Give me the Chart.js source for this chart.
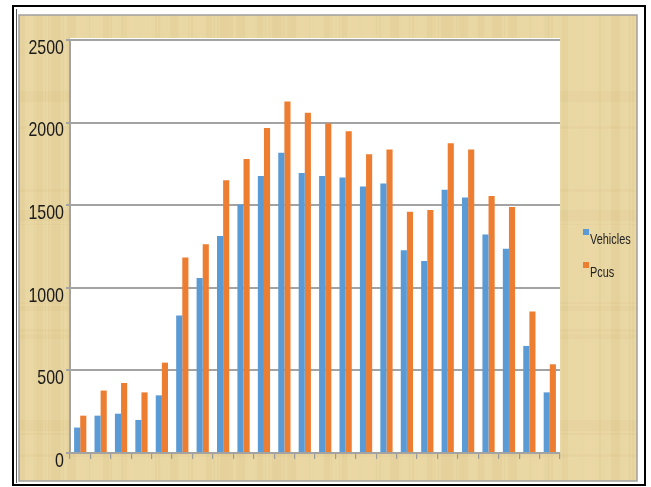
<!DOCTYPE html>
<html>
<head>
<meta charset="utf-8">
<script src="https://cdn.jsdelivr.net/npm/chart.js@4/dist/chart.umd.min.js"></script>
<style>
  html, body { margin: 0; padding: 0; background: #fff; overflow: hidden; }
  #wrap { width: 651px; height: 487px; position: relative; }
</style>
</head>
<body>
<div id="wrap"><canvas id="c" width="651" height="487"></canvas></div>
<script>
// Traffic counts per interval
const categories = ['1','2','3','4','5','6','7','8','9','10','11','12',
                    '13','14','15','16','17','18','19','20','21','22','23','24'];
const vehicles = [154, 226, 238, 200, 349, 833, 1059, 1314, 1504, 1677, 1818, 1695,
                  1677, 1667, 1613, 1631, 1227, 1162, 1594, 1546, 1322, 1237, 648, 367];
const pcus     = [226, 378, 424, 367, 547, 1183, 1263, 1651, 1780, 1968, 2127, 2060,
                  1994, 1947, 1808, 1837, 1461, 1471, 1875, 1837, 1556, 1489, 856, 537];
const yTicks   = [0, 500, 1000, 1500, 2000, 2500];

const BLUE = '#5b9bd5';
const ORANGE = '#ed7d31';
const GRID = '#a3a3a3';
const FONT = '"Liberation Sans", Arial, sans-serif';

// Papyrus-like backdrop, outer frame and white plotting panel
const backdrop = {
  id: 'backdrop',
  beforeDraw(chart) {
    const ctx = chart.ctx;
    const a = chart.chartArea;
    ctx.save();
    ctx.fillStyle = '#ffffff';
    ctx.fillRect(0, 0, chart.width, chart.height);

    // outer frame
    ctx.strokeStyle = '#000';
    ctx.lineWidth = 2;
    ctx.strokeRect(13, 6, 632, 479);
    ctx.lineWidth = 1;
    ctx.strokeStyle = '#555';
    ctx.beginPath();
    ctx.moveTo(16.5, 9); ctx.lineTo(16.5, 483);
    ctx.stroke();

    // parchment panel with soft fibrous streaks
    const px = 19, py = 15, pw = 618, ph = 466;
    ctx.fillStyle = '#e9d6a2';
    ctx.fillRect(px, py, pw, ph);
    ctx.beginPath();
    ctx.rect(px, py, pw, ph);
    ctx.clip();
    for (let x = px; x < px + pw; x++) {
      const s = Math.sin(x * 0.37) + Math.sin(x * 0.113 + 1.3) * 0.8 + Math.sin(x * 1.71 + 0.4) * 0.5
              + Math.sin(x * 0.029 + 0.7) * 0.7;
      const t = (s + 3) / 6;
      ctx.fillStyle = t > 0.55 ? 'rgba(196,160,92,' + (0.04 + 0.06 * t).toFixed(3) + ')'
                               : 'rgba(255,246,220,' + (0.06 * (1 - t)).toFixed(3) + ')';
      ctx.fillRect(x, py, 1, ph);
    }
    for (let y = py; y < py + ph; y++) {
      const s = Math.sin(y * 0.21) + Math.sin(y * 0.057 + 2.1) + Math.sin(y * 0.9 + 0.3) * 0.5;
      if (s > 1.2) {
        ctx.fillStyle = 'rgba(190,150,80,0.06)';
        ctx.fillRect(px, y, pw, 1);
      }
    }
    ctx.restore();
    ctx.save();
    ctx.strokeStyle = '#a0a0a0';
    ctx.lineWidth = 1.5;
    ctx.strokeRect(px, py, pw, ph);

    // white plotting panel
    ctx.fillStyle = '#ffffff';
    ctx.fillRect(a.left, a.top - 2, a.right - a.left, a.bottom - a.top + 2);
    ctx.restore();
  }
};

// Narrow the value labels horizontally around their right edge
const narrowLabels = {
  id: 'narrowLabels',
  afterLayout(chart) {
    const s = chart.scales.y;
    if (s._narrowed) return;
    s._narrowed = true;
    const base = Object.getPrototypeOf(s).drawLabels;
    s.drawLabels = function (area) {
      const ctx = this.ctx;
      const ax = this.right - 6;
      ctx.save();
      ctx.translate(ax, 0);
      ctx.scale(0.76, 1);
      ctx.translate(-ax, 0);
      base.call(this, area);
      ctx.restore();
    };
  }
};

// Series key at the right of the plot
const sideLegend = {
  id: 'sideLegend',
  afterDraw(chart) {
    const ctx = chart.ctx;
    ctx.save();
    ctx.font = '14px ' + FONT;
    ctx.textBaseline = 'middle';
    ctx.textAlign = 'left';
    const startY = 240, gap = 33;
    chart.data.datasets.forEach((ds, i) => {
      const y = startY + i * gap;
      ctx.fillStyle = ds.backgroundColor;
      ctx.fillRect(583, y - 11, 6, 6);
      ctx.save();
      ctx.translate(590, y);
      ctx.scale(0.78, 1);
      ctx.fillStyle = '#222';
      ctx.fillText(ds.label, 0, 0);
      ctx.restore();
    });
    ctx.restore();
  }
};

new Chart(document.getElementById('c'), {
  type: 'bar',
  data: {
    labels: categories,
    datasets: [
      { label: 'Vehicles', data: vehicles, backgroundColor: BLUE },
      { label: 'Pcus', data: pcus, backgroundColor: ORANGE }
    ]
  },
  options: {
    responsive: false,
    animation: false,
    devicePixelRatio: 1,
    layout: { padding: { top: 40, right: 91, bottom: 0, left: 0 } },
    datasets: {
      bar: { categoryPercentage: 0.6, barPercentage: 1.0, borderWidth: 0 }
    },
    plugins: {
      legend: { display: false },
      tooltip: { enabled: false }
    },
    scales: {
      x: {
        grid: {
          display: true, drawOnChartArea: false, drawTicks: true,
          tickLength: 6, color: '#9a9a9a', lineWidth: 1.2, offset: true
        },
        border: { display: true, color: GRID, width: 2 },
        ticks: { display: false },
        afterFit(s) { s.height = 34; }
      },
      y: {
        min: 0, max: 2500,
        afterBuildTicks(s) { s.ticks = yTicks.map(v => ({ value: v })); },
        grid: { color: GRID, lineWidth: 2, tickLength: 4, drawTicks: true },
        border: { display: true, color: GRID, width: 2 },
        ticks: {
          padding: 2,
          labelOffset: 8,
          color: '#1a1a1a',
          font: { family: FONT, size: 21 },
          callback: v => String(v)
        },
        afterFit(s) { s.width = 70; }
      }
    }
  },
  plugins: [backdrop, narrowLabels, sideLegend]
});
</script>
</body>
</html>
